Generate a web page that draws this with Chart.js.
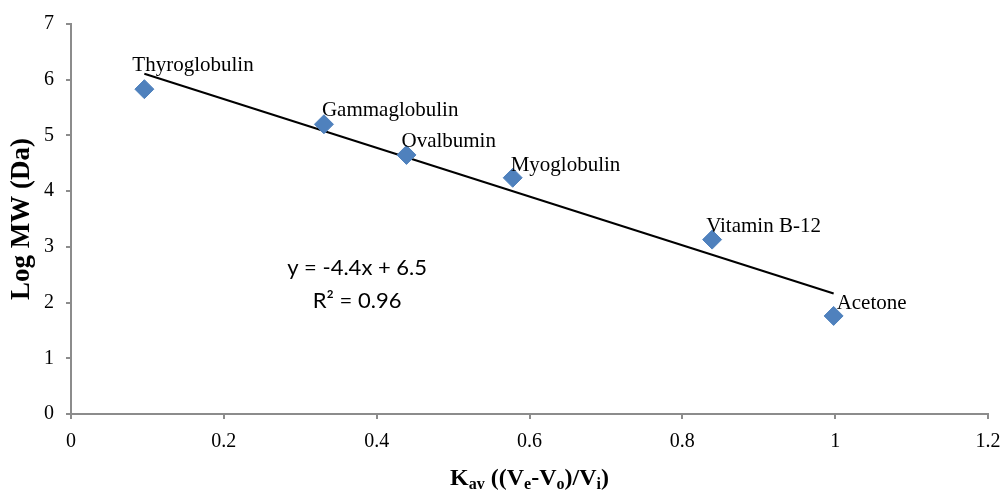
<!DOCTYPE html>
<html>
<head>
<meta charset="utf-8">
<script src="https://cdn.jsdelivr.net/npm/chart.js@4/dist/chart.umd.min.js"></script>
<style>
  html, body { margin: 0; padding: 0; background: #fff; }
  canvas { display: block; }
</style>
</head>
<body>
<canvas id="chart" width="1001" height="493"></canvas>
<script>
// Data
const proteins = ['Thyroglobulin', 'Gammaglobulin', 'Ovalbumin', 'Myoglobulin', 'Vitamin B-12', 'Acetone'];
const kav = [0.096, 0.331, 0.439, 0.578, 0.839, 0.998];
const logMW = [5.83, 5.2, 4.65, 4.24, 3.13, 1.76];
const xTicks = [0, 0.2, 0.4, 0.6, 0.8, 1, 1.2];
const yTicks = [0, 1, 2, 3, 4, 5, 6, 7];
const equationLines = ['y = -4.4x + 6.5', 'R\u00B2 = 0.96'];

// Label nudges (px) relative to each point
const labelDx = [-12, -2, -5, -2, -6, 3];
const labelDy = [-24, -14, -13, -12, -13, -12];

// Linear trendline (least squares) over the data range
function trend(xs, ys) {
    const n = xs.length;
    const mx = xs.reduce((a, b) => a + b, 0) / n;
    const my = ys.reduce((a, b) => a + b, 0) / n;
    let sxx = 0, sxy = 0;
    for (let i = 0; i < n; i++) {
        sxx += (xs[i] - mx) * (xs[i] - mx);
        sxy += (xs[i] - mx) * (ys[i] - my);
    }
    const m = sxy / sxx;
    const b = my - m * mx;
    const x0 = Math.min(...xs), x1 = Math.max(...xs);
    return [{ x: x0, y: m * x0 + b }, { x: x1, y: m * x1 + b }];
}

const serif = '"Liberation Serif", "Times New Roman", serif';
const axisGray = '#8c8c8c';

const pointLabels = {
    id: 'pointLabels',
    afterDatasetsDraw(chart) {
        const ctx = chart.ctx;
        const meta = chart.getDatasetMeta(0);
        ctx.save();
        ctx.font = '21px ' + serif;
        ctx.fillStyle = '#000';
        ctx.textAlign = 'left';
        ctx.textBaseline = 'middle';
        meta.data.forEach((pt, i) => {
            ctx.fillText(proteins[i], pt.x + labelDx[i], pt.y + labelDy[i]);
        });
        ctx.restore();
    }
};

const extras = {
    id: 'extras',
    afterDraw(chart) {
        const ctx = chart.ctx;
        const a = chart.chartArea;
        ctx.save();
        // equation
        ctx.font = '22px Lato, "Open Sans", sans-serif';
        ctx.fillStyle = '#000';
        ctx.textAlign = 'center';
        ctx.textBaseline = 'middle';
        const ex = a.left + (a.right - a.left) * 0.312;
        const ey = a.top + (a.bottom - a.top) * 0.625;
        ctx.fillText(equationLines[0], ex, ey);
        ctx.fillText(equationLines[1], ex, ey + 33);

        // y axis title
        ctx.save();
        ctx.translate(22, (a.top + a.bottom) / 2);
        ctx.rotate(-Math.PI / 2);
        ctx.font = 'bold 27px ' + serif;
        ctx.textAlign = 'center';
        ctx.textBaseline = 'middle';
        ctx.fillText('Log MW (Da)', 0, 0);
        ctx.restore();

        // x axis title with subscripts
        const parts = [
            ['K', false], ['av', true], [' ((V', false], ['e', true],
            ['-V', false], ['o', true], [')/V', false], ['i', true], [')', false]
        ];
        const big = 'bold 24px ' + serif, small = 'bold 16px ' + serif;
        let w = 0;
        parts.forEach(p => { ctx.font = p[1] ? small : big; w += ctx.measureText(p[0]).width; });
        let x = (a.left + a.right) / 2 - w / 2;
        const base = 485;
        ctx.textAlign = 'left';
        ctx.textBaseline = 'alphabetic';
        parts.forEach(p => {
            ctx.font = p[1] ? small : big;
            ctx.fillText(p[0], x, p[1] ? base + 4 : base);
            x += ctx.measureText(p[0]).width;
        });
        ctx.restore();
    }
};

new Chart(document.getElementById('chart'), {
    type: 'scatter',
    data: {
        datasets: [
            {
                label: 'Log MW',
                data: kav.map((k, i) => ({ x: k, y: logMW[i] })),
                pointStyle: 'rectRot',
                pointRadius: 9.5,
                pointHoverRadius: 9.5,
                backgroundColor: '#4F81BD',
                borderColor: '#4F81BD',
                borderWidth: 1
            },
            {
                label: 'Trend',
                type: 'line',
                data: trend(kav, logMW),
                borderColor: '#000',
                borderWidth: 2,
                pointRadius: 0,
                fill: false
            }
        ]
    },
    options: {
        responsive: false,
        animation: false,
        layout: { padding: { left: 0, right: 13, top: 24, bottom: 0 } },
        plugins: {
            legend: { display: false },
            tooltip: { enabled: false }
        },
        scales: {
            x: {
                type: 'linear',
                min: 0,
                max: 1.2,
                afterBuildTicks: s => { s.ticks = xTicks.map(v => ({ value: v })); },
                afterFit: s => { s.height = 79; s.paddingLeft = 0; s.paddingRight = 0; },
                ticks: {
                    color: '#000',
                    font: { family: serif, size: 20 },
                    padding: 11,
                    callback: v => String(v)
                },
                grid: { drawOnChartArea: false, drawTicks: true, tickLength: 5, color: axisGray, lineWidth: 2 },
                border: { color: axisGray, width: 2 }
            },
            y: {
                type: 'linear',
                min: 0,
                max: 7,
                afterBuildTicks: s => { s.ticks = yTicks.map(v => ({ value: v })); },
                afterFit: s => { s.width = 71; s.paddingTop = 0; s.paddingBottom = 0; },
                ticks: {
                    color: '#000',
                    font: { family: serif, size: 20 },
                    padding: 12,
                    callback: v => String(v)
                },
                grid: { drawOnChartArea: false, drawTicks: true, tickLength: 5, color: axisGray, lineWidth: 2 },
                border: { color: axisGray, width: 2 }
            }
        }
    },
    plugins: [pointLabels, extras]
});
</script>
</body>
</html>
